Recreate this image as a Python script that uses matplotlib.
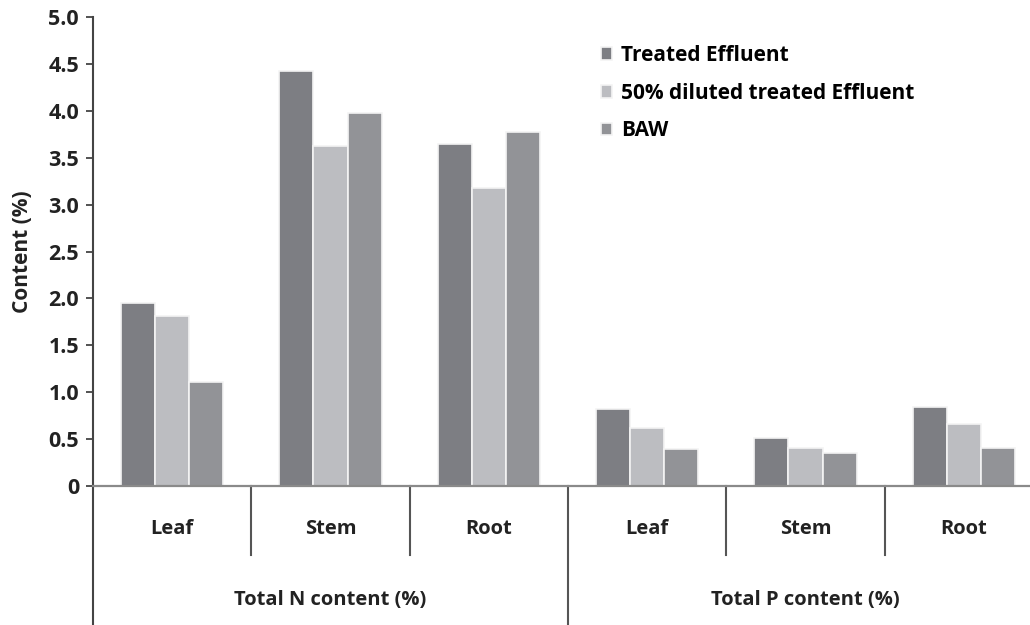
import numpy as np
import matplotlib
matplotlib.use("Agg")
import matplotlib.pyplot as plt
from matplotlib.transforms import blended_transform_factory

plt.rcParams['font.family'] = ['Open Sans', 'DejaVu Sans']
plt.rcParams['font.weight'] = 'bold'

# data
parts = ['Leaf', 'Stem', 'Root', 'Leaf', 'Stem', 'Root']
groups = ['Total N content (%)', 'Total P content (%)']
series = ['Treated Effluent', '50% diluted treated Effluent', 'BAW']
treated = [1.95, 4.42, 3.65, 0.82, 0.51, 0.84]
diluted = [1.81, 3.62, 3.18, 0.62, 0.41, 0.66]
baw = [1.11, 3.98, 3.77, 0.39, 0.35, 0.41]
yticks = [0, 0.5, 1.0, 1.5, 2.0, 2.5, 3.0, 3.5, 4.0, 4.5, 5.0]
ytick_labels = ['0', '0.5', '1.0', '1.5', '2.0', '2.5', '3.0', '3.5', '4.0', '4.5', '5.0']

colors = ['#7d7e83', '#bcbdc1', '#929397']
fs = 14.5

fig = plt.figure(figsize=(10.3, 6.25), dpi=100)
ax = fig.add_axes([93 / 1030, 139 / 625, 950 / 1030, 469 / 625])

x = np.arange(len(parts))
w = 0.215
for i, (vals, c, lab) in enumerate(zip([treated, diluted, baw], colors, series)):
    ax.bar(x + (i - 1) * w, vals, width=w, color=c, edgecolor='#f4f4f4',
           linewidth=1.2, label=lab, zorder=2)

ax.set_xlim(-0.5, 5.5)
ax.set_ylim(0, 5.0)
ax.set_yticks(yticks)
ax.set_yticklabels(ytick_labels, fontsize=15.5, fontweight='bold', color='#222222')
ax.tick_params(axis='y', length=5, width=1.3, color='#444444', pad=5)
ax.set_xticks([])
ax.set_ylabel('Content (%)', fontsize=15, fontweight='bold', color='#222222', labelpad=11)

for s in ['top', 'right']:
    ax.spines[s].set_visible(False)
ax.spines['left'].set_color('#444444')
ax.spines['left'].set_linewidth(1.5)
ax.spines['bottom'].set_color('#8a8a8a')
ax.spines['bottom'].set_linewidth(1.6)

tr = blended_transform_factory(ax.transData, ax.transAxes)
# left axis extending below
ax.plot([-0.5, -0.5], [0, -0.3], transform=tr, color='#444444', lw=1.5, clip_on=False)
# dividers between parts
for b in [0.5, 1.5, 3.5, 4.5]:
    ax.plot([b, b], [0, -0.147], transform=tr, color='#555555', lw=1.5, clip_on=False)
ax.plot([2.5, 2.5], [0, -0.3], transform=tr, color='#555555', lw=1.5, clip_on=False)

for xi, p in zip(x, parts):
    ax.text(xi, -0.092, p, transform=tr, ha='center', va='center',
            fontsize=fs, fontweight='bold', color='#222222')
for gi, g in enumerate(groups):
    ax.text(1 + 3 * gi, -0.243, g, transform=tr, ha='center', va='center',
            fontsize=fs, fontweight='bold', color='#222222')

ax.legend(loc='upper left', bbox_to_anchor=(0.515, 0.98), frameon=False,
          prop={'size': 15, 'weight': 'bold'}, handlelength=0.55, handleheight=0.55,
          handletextpad=0.4, labelspacing=0.8)

fig.savefig('out.png', dpi=100)
